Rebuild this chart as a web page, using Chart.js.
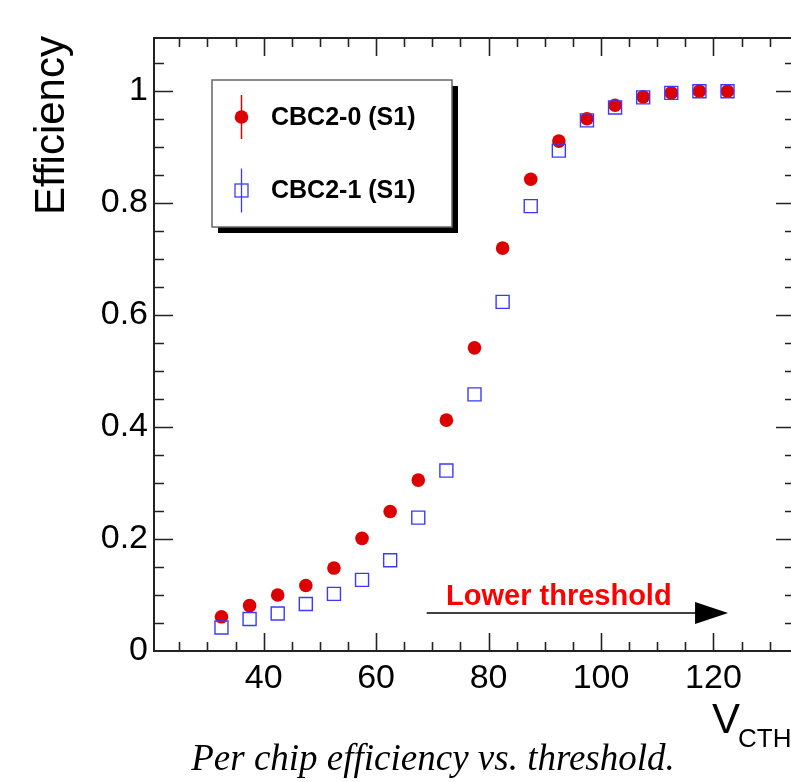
<!DOCTYPE html>
<html>
<head>
<meta charset="utf-8">
<script src="https://cdn.jsdelivr.net/npm/chart.js@4.4.1/dist/chart.umd.min.js"></script>
<style>
  html, body { margin: 0; padding: 0; background: #fff; overflow: hidden; }
  #wrap { width: 820px; height: 782px; }
</style>
</head>
<body>
<div id="wrap"><canvas id="effChart" width="820" height="782"></canvas></div>
<script>
// values
const vcth = [32.5, 37.5, 42.5, 47.5, 52.5, 57.5, 62.5, 67.5, 72.5, 77.5,
  82.5, 87.5, 92.5, 97.5, 102.5, 107.5, 112.5, 117.5, 122.5];
const effCbc0 = [0.061, 0.081, 0.100, 0.117, 0.148, 0.201, 0.249, 0.305, 0.412, 0.541,
  0.719, 0.842, 0.910, 0.950, 0.974, 0.989, 0.996, 0.999, 0.999];
const effCbc1 = [0.042, 0.057, 0.067, 0.084, 0.102, 0.127, 0.162, 0.238, 0.322, 0.458,
  0.623, 0.794, 0.893, 0.947, 0.970, 0.988, 0.996, 0.999, 0.999];
const seriesNames = ['CBC2-0 (S1)', 'CBC2-1 (S1)'];
const xTickLabels = [40, 60, 80, 100, 120];
const yTickLabels = [0, 0.2, 0.4, 0.6, 0.8, 1];

const RED = '#dd0000';
const BLUE = '#3a3aff';
const SANS = '"Liberation Sans", Arial, Helvetica, sans-serif';

const toPoints = (ys) => ys.map((y, i) => ({ x: vcth[i], y: y }));

// frame, inward ticks, legend and annotations (ROOT style)
const rootStyle = {
  id: 'rootStyle',
  afterDraw(chart) {
    const ctx = chart.ctx;
    const a = chart.chartArea;
    const xs = chart.scales.x;
    const ys = chart.scales.y;
    ctx.save();

    // ticks
    ctx.strokeStyle = '#222';
    ctx.lineWidth = 1.6;
    ctx.beginPath();
    for (let v = Math.ceil(xs.min / 5) * 5; v < xs.max; v += 5) {
      const px = Math.round(xs.getPixelForValue(v)) + 0.5;
      const len = v % 20 === 0 ? 18 : 9;
      ctx.moveTo(px, a.bottom); ctx.lineTo(px, a.bottom - len);
      ctx.moveTo(px, a.top); ctx.lineTo(px, a.top + len);
    }
    for (let i = 1; i * 0.05 < ys.max; i++) {
      const py = Math.round(ys.getPixelForValue(i * 0.05)) + 0.5;
      const len = i % 4 === 0 ? 19 : 10;
      ctx.moveTo(a.left, py); ctx.lineTo(a.left + len, py);
      ctx.moveTo(a.right, py); ctx.lineTo(a.right - len, py);
    }
    ctx.stroke();

    // frame
    ctx.lineWidth = 2;
    ctx.strokeRect(a.left, a.top, a.right - a.left, a.bottom - a.top);

    // legend box with shadow
    const lx = 212, ly = 80, lw = 240, lh = 147;
    ctx.fillStyle = '#000';
    ctx.fillRect(lx + 6, ly + 6, lw, lh);
    ctx.fillStyle = '#fff';
    ctx.fillRect(lx, ly, lw, lh);
    ctx.strokeStyle = '#666';
    ctx.lineWidth = 1.5;
    ctx.strokeRect(lx, ly, lw, lh);

    const mx = 241.5;
    const rows = [117, 190.5];
    // red entry
    ctx.strokeStyle = RED;
    ctx.lineWidth = 1.5;
    ctx.beginPath();
    ctx.moveTo(mx, rows[0] - 22); ctx.lineTo(mx, rows[0] + 22);
    ctx.stroke();
    ctx.fillStyle = RED;
    ctx.beginPath();
    ctx.arc(mx, rows[0], 6.8, 0, Math.PI * 2);
    ctx.fill();
    // blue entry
    ctx.strokeStyle = BLUE;
    ctx.lineWidth = 1.3;
    ctx.beginPath();
    ctx.moveTo(mx, rows[1] - 22); ctx.lineTo(mx, rows[1] + 22);
    ctx.stroke();
    ctx.strokeRect(mx - 6.5, rows[1] - 6.5, 13, 13);

    ctx.fillStyle = '#000';
    ctx.font = 'bold 25px ' + SANS;
    ctx.textAlign = 'left';
    ctx.textBaseline = 'middle';
    ctx.fillText(seriesNames[0], 271, rows[0] + 1);
    ctx.fillText(seriesNames[1], 271, rows[1] + 1);

    // arrow annotation
    const ax0 = xs.getPixelForValue(69);
    const ax1 = xs.getPixelForValue(122.6);
    const ay = ys.getPixelForValue(0.068);
    ctx.strokeStyle = '#000';
    ctx.lineWidth = 1.5;
    ctx.beginPath();
    ctx.moveTo(ax0, ay); ctx.lineTo(ax1 - 30, ay);
    ctx.stroke();
    ctx.fillStyle = '#000';
    ctx.beginPath();
    ctx.moveTo(ax1, ay);
    ctx.lineTo(ax1 - 33, ay - 11);
    ctx.lineTo(ax1 - 33, ay + 11);
    ctx.closePath();
    ctx.fill();

    ctx.fillStyle = '#ff0000';
    ctx.font = 'bold 29px ' + SANS;
    ctx.textAlign = 'center';
    ctx.textBaseline = 'alphabetic';
    ctx.fillText('Lower threshold', xs.getPixelForValue(92.5), ys.getPixelForValue(0.082));

    // axis titles
    ctx.fillStyle = '#000';
    ctx.font = '42px ' + SANS;
    ctx.textAlign = 'left';
    ctx.fillText('V', 712, 733);
    ctx.font = '26px ' + SANS;
    ctx.fillText('CTH', 738, 747);

    ctx.save();
    ctx.translate(64, 215);
    ctx.rotate(-Math.PI / 2);
    ctx.font = '42px ' + SANS;
    ctx.fillText('Efficiency', 0, 0);
    ctx.restore();

    // caption
    ctx.font = 'italic 37px "Liberation Serif", "Times New Roman", serif';
    ctx.textAlign = 'center';
    ctx.fillText('Per chip efficiency vs. threshold.', 433, 770);

    ctx.restore();
  }
};

const ctx = document.getElementById('effChart');

new Chart(ctx, {
  type: 'scatter',
  data: {
    datasets: [{
      label: seriesNames[0],
      data: toPoints(effCbc0),
      pointStyle: 'circle',
      pointRadius: 6.8,
      pointBackgroundColor: RED,
      pointBorderColor: RED,
      pointBorderWidth: 0,
      order: 2
    }, {
      label: seriesNames[1],
      data: toPoints(effCbc1),
      pointStyle: 'rect',
      pointRadius: 9.2,
      pointBackgroundColor: 'rgba(0,0,0,0)',
      pointBorderColor: BLUE,
      pointBorderWidth: 1.4,
      order: 1
    }]
  },
  options: {
    responsive: false,
    animation: false,
    layout: {
      padding: { top: 38, right: 25, left: 0, bottom: 0 }
    },
    scales: {
      x: {
        type: 'linear',
        min: 20.5,
        max: 134.5,
        afterBuildTicks: (scale) => { scale.ticks = xTickLabels.map(v => ({ value: v })); },
        afterFit: (scale) => { scale.height = 131; },
        grid: { display: false, drawTicks: false },
        border: { display: false },
        ticks: {
          color: '#000',
          padding: 7,
          maxRotation: 0,
          font: { family: SANS, size: 34 }
        }
      },
      y: {
        type: 'linear',
        min: 0,
        max: 1.094,
        afterBuildTicks: (scale) => { scale.ticks = yTickLabels.map(v => ({ value: v })); },
        afterFit: (scale) => { scale.width = 154; },
        grid: { display: false, drawTicks: false },
        border: { display: false },
        ticks: {
          color: '#000',
          padding: 6,
          font: { family: SANS, size: 34 },
          callback: (v) => (v === 0 || v === 1) ? String(v) : v.toFixed(1)
        }
      }
    },
    plugins: {
      legend: { display: false },
      tooltip: { enabled: false }
    }
  },
  plugins: [rootStyle]
});
</script>
</body>
</html>
